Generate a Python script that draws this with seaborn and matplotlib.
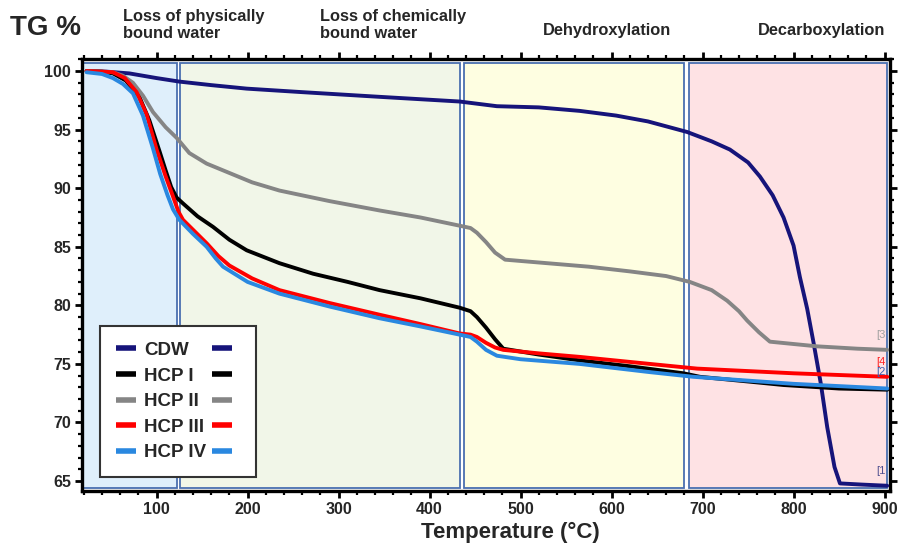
import numpy as np
import pandas as pd
import matplotlib
matplotlib.use("Agg")
import matplotlib.pyplot as plt
import seaborn as sns
from matplotlib.lines import Line2D
from matplotlib.patches import Rectangle
from matplotlib.ticker import MultipleLocator

# ---------------- data ----------------
cdw_T = [23, 45, 70, 100, 125, 160, 199, 260, 345, 433, 474, 520, 565, 605, 640, 683, 710, 730, 750, 763, 777, 789, 800, 807, 815, 822, 830, 837, 845, 851, 875, 903]
cdw_TG = [100, 99.95, 99.8, 99.4, 99.1, 98.8, 98.5, 98.2, 97.8, 97.4, 97.0, 96.9, 96.6, 96.2, 95.7, 94.8, 94.0, 93.3, 92.2, 91.0, 89.4, 87.5, 85.1, 82.4, 79.7, 76.8, 73.3, 69.6, 66.2, 64.8, 64.7, 64.6]

hcp1_T = [23, 40, 52, 66, 81, 92, 103, 110, 116, 122, 129, 145, 162, 180, 199, 235, 272, 310, 345, 390, 433, 445, 452, 462, 472, 481, 520, 565, 620, 679, 697, 750, 789, 850, 903]
hcp1_TG = [100, 99.95, 99.8, 99.2, 97.8, 95.8, 93.2, 91.5, 90.1, 89.2, 88.7, 87.6, 86.7, 85.6, 84.7, 83.6, 82.7, 82.0, 81.3, 80.6, 79.8, 79.5, 79.0, 78.1, 77.1, 76.3, 75.8, 75.3, 74.8, 74.2, 73.9, 73.5, 73.2, 72.9, 72.8]

hcp2_T = [23, 40, 52, 63, 74, 85, 96, 110, 122, 136, 155, 180, 205, 235, 290, 345, 390, 433, 445, 452, 462, 472, 483, 529, 575, 620, 660, 686, 710, 727, 740, 749, 762, 774, 800, 826, 870, 903]
hcp2_TG = [100, 99.95, 99.9, 99.6, 99.0, 97.9, 96.5, 95.2, 94.3, 93.0, 92.1, 91.3, 90.5, 89.8, 88.9, 88.1, 87.5, 86.8, 86.6, 86.2, 85.4, 84.5, 83.9, 83.6, 83.3, 82.9, 82.5, 82.0, 81.3, 80.4, 79.5, 78.7, 77.7, 76.9, 76.7, 76.5, 76.3, 76.2]

hcp3_T = [23, 40, 52, 65, 78, 89, 100, 110, 118, 124, 129, 142, 155, 168, 180, 205, 235, 290, 345, 390, 433, 445, 452, 462, 472, 481, 520, 565, 642, 694, 800, 903]
hcp3_TG = [100, 99.95, 99.9, 99.4, 98.2, 96.3, 93.3, 91.0, 89.3, 88.0, 87.3, 86.3, 85.3, 84.2, 83.4, 82.3, 81.3, 80.2, 79.2, 78.4, 77.6, 77.5, 77.3, 76.8, 76.4, 76.2, 75.9, 75.6, 75.0, 74.6, 74.2, 73.9]

hcp4_T = [23, 40, 52, 63, 74, 85, 96, 104, 112, 118, 125, 140, 155, 165, 173, 200, 235, 290, 345, 390, 433, 445, 452, 462, 474, 500, 565, 642, 690, 800, 903]
hcp4_TG = [99.9, 99.75, 99.4, 98.9, 98.1, 96.2, 93.4, 91.2, 89.4, 88.2, 87.3, 86.1, 85.0, 84.0, 83.3, 82.0, 81.0, 79.9, 78.9, 78.2, 77.5, 77.3, 76.9, 76.2, 75.7, 75.4, 75.0, 74.3, 73.9, 73.3, 72.9]

series_names = ["CDW", "HCP I", "HCP II", "HCP III", "HCP IV"]
series_T = [cdw_T, hcp1_T, hcp2_T, hcp3_T, hcp4_T]
series_TG = [cdw_TG, hcp1_TG, hcp2_TG, hcp3_TG, hcp4_TG]
series_colors = ["#16147a", "#000000", "#858585", "#ff0000", "#2a88e0"]

region_names = ["Loss of physically\nbound water", "Loss of chemically\nbound water",
                "Dehydroxylation", "Decarboxylation"]
region_start = [19, 126.2, 438, 685.5]
region_end = [122.4, 433.5, 680, 903]
region_colors = ["#dfeffb", "#f1f6e8", "#fefee1", "#fee2e4"]

end_tags = ["[3", "[4", "[2", "[1"]
end_tag_y = [77.45, 75.15, 74.3, 65.9]
end_tag_colors = ["#a0a0a0", "#ff2020", "#3a5fb0", "#505090"]

xticks = [100, 200, 300, 400, 500, 600, 700, 800, 900]
yticks = [65, 70, 75, 80, 85, 90, 95, 100]

# ---------------- style ----------------
sns.set_theme(style="ticks")
plt.rcParams["font.family"] = ["Liberation Sans", "DejaVu Sans"]
plt.rcParams["font.weight"] = "bold"

fig = plt.figure(figsize=(9, 5.49), dpi=100)
ax = fig.add_axes([0.0911, 0.1056, 0.8978, 0.7878])

# regions
for x0, x1, c in zip(region_start, region_end, region_colors):
    ax.add_patch(Rectangle((x0, 64.45), x1 - x0, 100.65 - 64.45, facecolor=c,
                           edgecolor="#4a6fb0", linewidth=1.3, zorder=0))

df = pd.concat([pd.DataFrame({"T": t, "TG": g, "sample": n})
                for t, g, n in zip(series_T, series_TG, series_names)], ignore_index=True)
sns.lineplot(data=df, x="T", y="TG", hue="sample", hue_order=series_names,
             palette=dict(zip(series_names, series_colors)), estimator=None,
             sort=False, linewidth=2.8, legend=False, ax=ax, zorder=3)

ax.set_xlim(18, 906)
ax.set_ylim(64.15, 101.07)
ax.set_xticks(xticks)
ax.set_yticks(yticks)
ax.xaxis.set_minor_locator(MultipleLocator(20))
ax.yaxis.set_minor_locator(MultipleLocator(1))
ax.tick_params(which="both", direction="out", top=True, right=True, color="black")
ax.tick_params(which="major", length=5, width=2.0, labelsize=11.5, pad=3)
ax.tick_params(which="minor", length=3, width=1.6)
for s in ax.spines.values():
    s.set_linewidth(2.4)
    s.set_color("black")
for lab in ax.get_xticklabels() + ax.get_yticklabels():
    lab.set_fontweight("bold")
ax.grid(False)

ax.set_xlabel("Temperature (°C)", fontsize=16, fontweight="bold")
ax.set_ylabel("")
ax.xaxis.set_label_coords(0.53, -0.072)

# end tags
for t, y, c in zip(end_tags, end_tag_y, end_tag_colors):
    ax.text(896, y, t, fontsize=8, fontweight="normal", color=c, ha="center", va="center", zorder=4)

# legend
handles = [Line2D([], [], color=c, linewidth=4, solid_capstyle="butt") for c in series_colors]
leg = ax.legend(handles + handles, series_names + [""] * 5, ncol=2,
                loc="lower left", bbox_to_anchor=(0.022, 0.032), borderaxespad=0,
                prop={"size": 13.5, "weight": "bold"}, handlelength=1.1,
                handletextpad=0.4, columnspacing=0.3, labelspacing=0.45,
                borderpad=0.85, fancybox=False, framealpha=1, edgecolor="#333333")
leg.get_frame().set_linewidth(1.5)
leg.set_zorder(5)

# titles / annotations
fig.text(0.011, 0.972, "TG %", fontsize=20, fontweight="bold", va="top", ha="left")
fig.text(123 / 900, 1 - 9 / 549, region_names[0], fontsize=11.8, fontweight="bold",
         va="top", ha="left", linespacing=1.2)
fig.text(320 / 900, 1 - 9 / 549, region_names[1], fontsize=11.8, fontweight="bold",
         va="top", ha="left", linespacing=1.2)
fig.text(607 / 900, 1 - 30 / 549, region_names[2], fontsize=11.8, fontweight="bold",
         va="center", ha="center")
fig.text(822 / 900, 1 - 31 / 549, region_names[3], fontsize=11.8, fontweight="bold",
         va="center", ha="center")

fig.savefig("out.png", dpi=100, facecolor="white")
